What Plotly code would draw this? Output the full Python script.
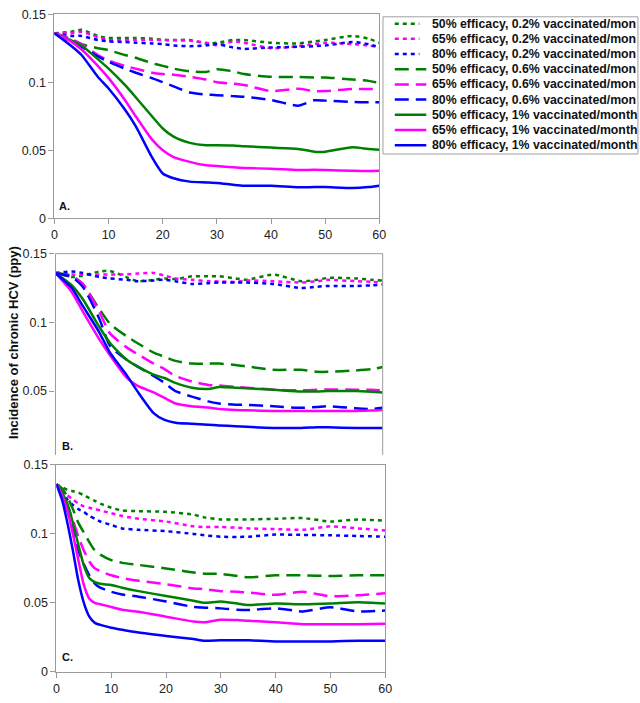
import plotly.graph_objects as go

W, H = 640, 703

series_names = [
    "50% efficacy, 0.2% vaccinated/mon",
    "65% efficacy, 0.2% vaccinated/mon",
    "80% efficacy, 0.2% vaccinated/mon",
    "50% efficacy, 0.6% vaccinated/mon",
    "65% efficacy, 0.6% vaccinated/mon",
    "80% efficacy, 0.6% vaccinated/mon",
    "50% efficacy, 1% vaccinated/month",
    "65% efficacy, 1% vaccinated/month",
    "80% efficacy, 1% vaccinated/month",
]
series_colors = ["#008000", "#FF00FF", "#0000FF"] * 3
series_dash = ["4px,4px"] * 3 + ["14px,7px"] * 3 + ["solid"] * 3

x_ticks = [0, 10, 20, 30, 40, 50, 60]
y_ticks = [0, 0.05, 0.1, 0.15]
y_tick_text = ["0", "0.05", "0.1", "0.15"]

# ---------------- Panel A ----------------
t_A = [0, 3, 5, 8, 10, 13, 15, 18, 20, 22, 25, 28, 30, 33, 35, 40, 45, 48, 50, 55, 58, 60]
A_g02 = [0.136, 0.137, 0.1385, 0.134, 0.1325, 0.1325, 0.1325, 0.132, 0.131, 0.131, 0.131, 0.1285, 0.129, 0.131, 0.131, 0.129, 0.1285, 0.130, 0.131, 0.134, 0.132, 0.129]
A_m02 = [0.136, 0.136, 0.137, 0.133, 0.131, 0.131, 0.131, 0.131, 0.131, 0.1308, 0.1305, 0.129, 0.127, 0.130, 0.129, 0.125, 0.1265, 0.128, 0.129, 0.128, 0.127, 0.1255]
A_b02 = [0.136, 0.134, 0.134, 0.131, 0.130, 0.1295, 0.129, 0.1285, 0.128, 0.127, 0.1265, 0.127, 0.128, 0.1255, 0.1245, 0.1255, 0.126, 0.1265, 0.127, 0.1295, 0.128, 0.1255]
A_g06 = [0.136, 0.131, 0.128, 0.125, 0.1235, 0.120, 0.118, 0.114, 0.112, 0.110, 0.108, 0.1075, 0.1095, 0.108, 0.106, 0.104, 0.1038, 0.1035, 0.1035, 0.102, 0.101, 0.0995]
A_m06 = [0.136, 0.132, 0.128, 0.120, 0.116, 0.112, 0.110, 0.107, 0.106, 0.1055, 0.104, 0.102, 0.100, 0.099, 0.098, 0.0935, 0.0952, 0.0935, 0.0935, 0.095, 0.095, 0.095]
A_b06 = [0.136, 0.130, 0.126, 0.119, 0.115, 0.110, 0.107, 0.103, 0.100, 0.097, 0.0925, 0.091, 0.0905, 0.0898, 0.0893, 0.087, 0.0828, 0.0868, 0.0865, 0.0855, 0.0853, 0.0853]
A_g1 = [0.136, 0.131, 0.127, 0.117, 0.110, 0.098, 0.089, 0.075, 0.066, 0.060, 0.0555, 0.0537, 0.0537, 0.0535, 0.053, 0.052, 0.051, 0.049, 0.049, 0.0522, 0.051, 0.0505]
A_m1 = [0.136, 0.130, 0.124, 0.112, 0.103, 0.087, 0.075, 0.058, 0.050, 0.045, 0.0415, 0.039, 0.0385, 0.0375, 0.037, 0.0365, 0.0355, 0.0357, 0.0355, 0.035, 0.0348, 0.035]
A_b1 = [0.136, 0.127, 0.120, 0.104, 0.0954, 0.080, 0.0678, 0.045, 0.033, 0.0295, 0.027, 0.0264, 0.026, 0.0247, 0.024, 0.024, 0.0228, 0.023, 0.023, 0.0223, 0.023, 0.024]

# ---------------- Panel B ----------------
t_B = [0, 3, 5, 8, 10, 13, 15, 18, 20, 22, 25, 28, 30, 33, 35, 40, 45, 48, 50, 55, 58, 60]
B_g02 = [0.136, 0.133, 0.134, 0.137, 0.1375, 0.133, 0.130, 0.131, 0.132, 0.1315, 0.1335, 0.1336, 0.1336, 0.132, 0.131, 0.1348, 0.130, 0.131, 0.1324, 0.132, 0.131, 0.1305]
B_m02 = [0.136, 0.1348, 0.1348, 0.1348, 0.1348, 0.135, 0.1355, 0.136, 0.134, 0.132, 0.131, 0.130, 0.1298, 0.1295, 0.1305, 0.130, 0.129, 0.130, 0.131, 0.130, 0.1295, 0.129]
B_b02 = [0.136, 0.137, 0.136, 0.133, 0.132, 0.131, 0.130, 0.1305, 0.131, 0.130, 0.128, 0.1285, 0.129, 0.129, 0.129, 0.128, 0.125, 0.126, 0.1265, 0.1265, 0.127, 0.1276]
B_g06 = [0.136, 0.134, 0.128, 0.110, 0.099, 0.090, 0.085, 0.078, 0.075, 0.072, 0.070, 0.070, 0.070, 0.069, 0.068, 0.0655, 0.0655, 0.064, 0.064, 0.065, 0.066, 0.0675]
B_m06 = [0.136, 0.133, 0.128, 0.108, 0.092, 0.082, 0.077, 0.070, 0.066, 0.061, 0.057, 0.0545, 0.054, 0.053, 0.0525, 0.051, 0.0505, 0.051, 0.0512, 0.051, 0.051, 0.0505]
B_b06 = [0.136, 0.133, 0.126, 0.103, 0.083, 0.073, 0.068, 0.061, 0.056, 0.050, 0.046, 0.0425, 0.041, 0.040, 0.040, 0.039, 0.0378, 0.0385, 0.039, 0.0375, 0.037, 0.0378]
B_g1 = [0.136, 0.127, 0.117, 0.097, 0.085, 0.073, 0.068, 0.062, 0.0595, 0.056, 0.0525, 0.0515, 0.053, 0.0525, 0.052, 0.051, 0.0497, 0.0497, 0.050, 0.050, 0.0495, 0.049]
B_m1 = [0.136, 0.122, 0.108, 0.088, 0.076, 0.060, 0.054, 0.049, 0.045, 0.041, 0.039, 0.038, 0.037, 0.0362, 0.036, 0.0355, 0.0355, 0.0355, 0.0355, 0.0355, 0.0358, 0.0362]
B_b1 = [0.136, 0.125, 0.112, 0.093, 0.078, 0.062, 0.050, 0.034, 0.029, 0.027, 0.0262, 0.0255, 0.025, 0.0245, 0.024, 0.0232, 0.0232, 0.0236, 0.0236, 0.0232, 0.0232, 0.0232]

# ---------------- Panel C ----------------
t_C = [0, 1, 2, 3, 4, 5, 6, 7, 8, 10, 12, 15, 20, 25, 27, 30, 33, 35, 40, 45, 50, 55, 60]
C_g02 = [0.136, 0.134, 0.132, 0.131, 0.130, 0.128, 0.126, 0.124, 0.122, 0.119, 0.117, 0.1165, 0.116, 0.114, 0.112, 0.1105, 0.1105, 0.1105, 0.111, 0.1115, 0.109, 0.1105, 0.1095]
C_m02 = [0.136, 0.132, 0.128, 0.125, 0.122, 0.120, 0.119, 0.118, 0.117, 0.115, 0.113, 0.111, 0.109, 0.1055, 0.105, 0.105, 0.1045, 0.104, 0.1035, 0.103, 0.1055, 0.104, 0.1025]
C_b02 = [0.136, 0.130, 0.125, 0.121, 0.118, 0.116, 0.113, 0.111, 0.109, 0.1065, 0.104, 0.103, 0.102, 0.100, 0.099, 0.098, 0.0978, 0.098, 0.0995, 0.0993, 0.099, 0.0985, 0.098]
C_g06 = [0.136, 0.133, 0.127, 0.118, 0.108, 0.101, 0.094, 0.088, 0.085, 0.081, 0.079, 0.0775, 0.075, 0.072, 0.0712, 0.071, 0.0695, 0.0685, 0.070, 0.070, 0.0695, 0.070, 0.070]
C_m06 = [0.136, 0.130, 0.121, 0.110, 0.098, 0.088, 0.080, 0.075, 0.073, 0.070, 0.068, 0.066, 0.0635, 0.0605, 0.060, 0.0585, 0.058, 0.0575, 0.0558, 0.058, 0.0548, 0.0555, 0.057]
C_b06 = [0.136, 0.128, 0.117, 0.103, 0.088, 0.078, 0.070, 0.064, 0.061, 0.058, 0.056, 0.0545, 0.051, 0.047, 0.0465, 0.046, 0.045, 0.0448, 0.046, 0.0438, 0.0468, 0.0438, 0.0445]
C_g1 = [0.136, 0.130, 0.122, 0.108, 0.092, 0.077, 0.068, 0.065, 0.0638, 0.063, 0.061, 0.0585, 0.055, 0.0515, 0.050, 0.051, 0.0495, 0.0485, 0.0495, 0.049, 0.0495, 0.0505, 0.0495]
C_m1 = [0.136, 0.128, 0.117, 0.100, 0.081, 0.063, 0.053, 0.050, 0.049, 0.047, 0.045, 0.0435, 0.040, 0.0365, 0.036, 0.0378, 0.0375, 0.037, 0.036, 0.0345, 0.0345, 0.0345, 0.0348]
C_b1 = [0.136, 0.125, 0.108, 0.088, 0.066, 0.050, 0.040, 0.0355, 0.034, 0.032, 0.0305, 0.0285, 0.026, 0.0237, 0.0225, 0.0228, 0.0228, 0.0228, 0.022, 0.022, 0.022, 0.0225, 0.0225]

panels = [
    ("x", "y", t_A, [A_g02, A_m02, A_b02, A_g06, A_m06, A_b06, A_g1, A_m1, A_b1]),
    ("x2", "y2", t_B, [B_g02, B_m02, B_b02, B_g06, B_m06, B_b06, B_g1, B_m1, B_b1]),
    ("x3", "y3", t_C, [C_g02, C_m02, C_b02, C_g06, C_m06, C_b06, C_g1, C_m1, C_b1]),
]

fig = go.Figure()
for xa, ya, t, vals in panels:
    for i, v in enumerate(vals):
        fig.add_trace(go.Scatter(
            x=t, y=v, xaxis=xa, yaxis=ya, mode="lines", name=series_names[i],
            showlegend=False, hoverinfo="skip",
            line=dict(color=series_colors[i], width=2.5, dash=series_dash[i],
                      shape="spline", smoothing=0.6),
        ))

def px_x(p):
    return p / W

def px_y(p):
    return (H - p) / H

FONT = "Liberation Sans, Arial, sans-serif"
AX_COLOR = "#9a9a9a"
tickfont = dict(family=FONT, size=12.5, color="#222222")

def xaxis(domain, show_labels=True, showline=True):
    return dict(domain=domain, range=[0, 60], tickvals=x_ticks, showgrid=False, zeroline=False,
                showline=showline, mirror=showline, linecolor=AX_COLOR, linewidth=1,
                ticks="outside" if show_labels else "", ticklen=5, tickcolor=AX_COLOR,
                showticklabels=show_labels, tickfont=tickfont, fixedrange=True)

def yaxis(domain, rng, tv, tt, anchor, showline=True):
    return dict(domain=domain, range=rng, tickvals=tv, ticktext=tt, showgrid=False, zeroline=False,
                showline=showline, mirror=showline, linecolor=AX_COLOR, linewidth=1,
                ticks="outside", ticklen=5, tickcolor=AX_COLOR, tickfont=tickfont,
                anchor=anchor, fixedrange=True)

# panel pixel boxes (left, right, top, bottom)
A_box = (52.3, 382.3, 7.3, 215.7)
B_box = (53.3, 385.7, 251.7, 457.0)
C_box = (54.3, 388.3, 467.3, 678.3)

B_ymin = 0.15 - 0.15 * (B_box[3] - B_box[2]) / (462.0 - B_box[2])

fig.update_layout(
    width=W, height=H, margin=dict(l=0, r=0, t=0, b=0),
    paper_bgcolor="white", plot_bgcolor="white", showlegend=False,
    xaxis=dict(xaxis([px_x(A_box[0]), px_x(A_box[1])]), anchor="y"),
    yaxis=yaxis([px_y(A_box[3]), px_y(A_box[2])], [0, 0.15], y_ticks, y_tick_text, "x"),
    xaxis2=dict(xaxis([px_x(B_box[0]), px_x(B_box[1])], show_labels=False, showline=False), anchor="y2"),
    yaxis2=yaxis([px_y(B_box[3]), px_y(B_box[2])], [B_ymin, 0.15], y_ticks[1:], y_tick_text[1:], "x2", showline=False),
    xaxis3=dict(xaxis([px_x(C_box[0]), px_x(C_box[1])]), anchor="y3"),
    yaxis3=yaxis([px_y(C_box[3]), px_y(C_box[2])], [0, 0.15], y_ticks, y_tick_text, "x3"),
)

# border for panel B (open at bottom, where panel C overlaps it)
fig.add_shape(type="path", xref="x2 domain", yref="y2 domain",
              path="M 0,0 L 0,1 L 1,1 L 1,0", line=dict(color=AX_COLOR, width=1))

# panel letters
for lab, (lx, ly) in zip(["A.", "B.", "C."], [(62, 203), (66, 447.7), (66, 663)]):
    fig.add_annotation(text="<b>%s</b>" % lab, x=px_x(lx), y=px_y(ly), xref="paper", yref="paper",
                       xanchor="center", yanchor="middle",
                       showarrow=False, font=dict(family=FONT, size=11, color="#111111"))

# y title
fig.add_annotation(text="<b>Incidence of chronic HCV (ppy)</b>", x=px_x(10), y=px_y(342),
                   xref="paper", yref="paper", showarrow=False, textangle=-90,
                   xanchor="center", yanchor="middle",
                   font=dict(family=FONT, size=13, color="#111111"))

# legend (custom, compact like the original)
leg_left, leg_top, leg_bottom = 386, 10, 150
fig.add_shape(type="rect", xref="paper", yref="paper",
              x0=px_x(leg_left), x1=px_x(W + 5), y0=px_y(leg_bottom), y1=px_y(leg_top),
              line=dict(color="#a0a0a0", width=1), fillcolor="white", layer="above")
for i, name in enumerate(series_names):
    yy = 17 + 15.5 * i
    x1 = 423 if i < 3 else 430
    fig.add_shape(type="line", xref="paper", yref="paper", layer="above",
                  x0=px_x(398), x1=px_x(x1), y0=px_y(yy), y1=px_y(yy),
                  line=dict(color=series_colors[i], width=2.5, dash=series_dash[i]))
    fig.add_annotation(text="<b>%s</b>" % name, x=px_x(434), y=px_y(yy), xref="paper", yref="paper",
                       xanchor="left", yanchor="middle", showarrow=False,
                       font=dict(family=FONT, size=12.3, color="#111111"))

fig.write_html("out.html", config={"displayModeBar": False},
               post_script="document.body.style.margin='0';document.body.style.overflow='hidden';")
